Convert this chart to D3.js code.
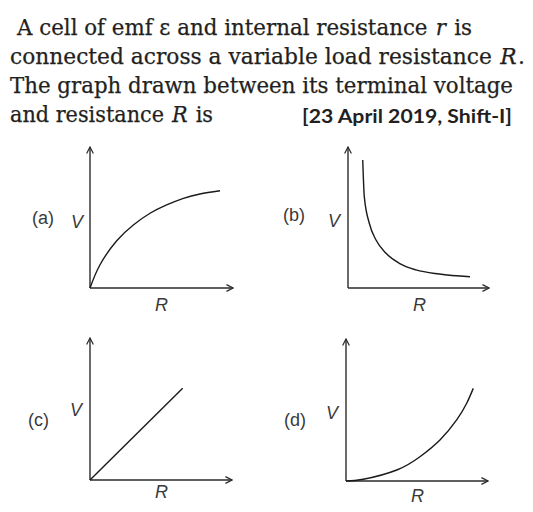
<!DOCTYPE html>
<html>
<head>
<meta charset="utf-8">
<script src="https://cdn.jsdelivr.net/npm/d3@7"></script>
<style>
  html, body { margin: 0; padding: 0; background: #fff; }
  svg { display: block; }
</style>
</head>
<body>
<svg id="chart" width="533" height="512"></svg>
<script>
// ---------- data ----------
const panelIds = ["a", "b", "c", "d"];
const panelLabels = ["(a)", "(b)", "(c)", "(d)"];
const axisLabelX = "R";
const axisLabelY = "V";
// curve samples (R, V) in arbitrary units (axis domain 0..10)
const curveA_R = [0, 0.70, 1.87, 3.03, 4.20, 5.36, 6.53, 7.69, 9.09];
const curveA_V = [0, 1.65, 3.35, 4.47, 5.30, 5.89, 6.36, 6.67, 6.90];
const curveB_R = [1.03, 1.14, 1.49, 1.96, 2.66, 3.59, 4.76, 6.38, 8.53];
const curveB_V = [9.08, 6.48, 4.59, 3.40, 2.46, 1.75, 1.28, 0.99, 0.80];
const curveC_R = [0, 6.48];
const curveC_V = [0, 6.50];
const curveD_R = [0, 1.21, 3.55, 5.17, 6.57, 7.74, 8.44, 8.90];
const curveD_V = [0, 0.12, 0.78, 1.72, 2.91, 4.33, 5.51, 6.57];

const titleLines = [
  ["A cell of emf ε and internal resistance ", {i: "r"}, " is"],
  ["connected across a variable load resistance ", {i: "R"}, "."],
  ["The graph drawn between its terminal voltage"],
  ["and resistance ", {i: "R"}, " is"]
];
const sourceNote = "[23 April 2019, Shift-I]";

// ---------- layout ----------
const svg = d3.select("#chart");
const ink = "#231f20";

const defs = svg.append("defs");
defs.append("marker")
  .attr("id", "arrow")
  .attr("viewBox", "0 0 10 10")
  .attr("refX", 9.2).attr("refY", 5)
  .attr("markerWidth", 8).attr("markerHeight", 8)
  .attr("markerUnits", "userSpaceOnUse")
  .attr("orient", "auto")
  .append("path")
  .attr("d", "M1,0.8 L9.2,5 L1,9.2")
  .attr("fill", "none")
  .attr("stroke", "#2a2a2a")
  .attr("stroke-width", 1.5);

// title: each run is its own text element; spaces between runs become gaps
const titleX = [17, 10, 10, 10];
const titleY = [35, 64, 93, 122];
const titleW = [455, 515, 503, 203];
const serifFont = "'DejaVu Serif', serif";
const probe = svg.append("text").attr("font-family", serifFont).attr("font-size", 22)
  .attr("xml:space", "preserve").style("white-space", "pre").text("a a");
const probe2 = svg.append("text").attr("font-family", serifFont).attr("font-size", 22).text("aa");
const spaceW = probe.node().getComputedTextLength() - probe2.node().getComputedTextLength();
probe.remove(); probe2.remove();

titleLines.forEach((parts, k) => {
  const runs = parts.map(p => {
    const italic = typeof p !== "string";
    const raw = italic ? p.i : p;
    const lead = raw.length - raw.replace(/^ +/, "").length;
    const trail = raw.length - raw.replace(/ +$/, "").length;
    const txt = raw.trim();
    const t = svg.append("text")
      .attr("y", titleY[k])
      .attr("font-family", serifFont)
      .attr("font-size", 22)
      .attr("font-style", italic ? "italic" : "normal")
      .attr("fill", ink)
      .attr("stroke", ink).attr("stroke-width", 0.25)
      .text(txt);
    return {t, w: t.node().getComputedTextLength(),
            lead: lead * spaceW + (italic ? 1.5 : 0),
            trail: trail * spaceW + (italic ? 1.5 : 0)};
  });
  const total = d3.sum(runs, r => r.w + r.lead + r.trail);
  const f = titleW[k] / total;
  let cx = titleX[k];
  runs.forEach(r => {
    cx += r.lead * f;
    const w = r.w * f;
    r.t.attr("x", cx).attr("textLength", w).attr("lengthAdjust", "spacingAndGlyphs");
    cx += w + r.trail * f;
  });
});
svg.append("text")
  .attr("x", 302).attr("y", 123)
  .attr("font-family", "Lato, 'Open Sans', sans-serif")
  .attr("font-weight", "bold")
  .attr("font-size", 18)
  .attr("fill", ink)
  .attr("textLength", 210)
  .attr("lengthAdjust", "spacingAndGlyphs")
  .text(sourceNote);

// panels
const panels = [
  {ox: 90,  oy: 288, top: 147, right: 233, R: curveA_R, V: curveA_V,
   lab: [32, 224], vlab: [71, 228], rlab: [155, 311], curve: d3.curveNatural},
  {ox: 348, oy: 288, top: 147, right: 489, R: curveB_R, V: curveB_V,
   lab: [283, 221], vlab: [328, 227], rlab: [413, 311], curve: d3.curveMonotoneX},
  {ox: 90,  oy: 480, top: 338, right: 232, R: curveC_R, V: curveC_V,
   lab: [28, 426], vlab: [70, 416], rlab: [155, 498], curve: d3.curveLinear},
  {ox: 346, oy: 481, top: 339, right: 488, R: curveD_R, V: curveD_V,
   lab: [284, 426], vlab: [326, 419], rlab: [411, 502], curve: d3.curveNatural}
];

panels.forEach((p, i) => {
  const g = svg.append("g").attr("class", "panel-" + panelIds[i]);
  const x = d3.scaleLinear().domain([0, 10]).range([p.ox, p.ox + 143]);
  const y = d3.scaleLinear().domain([0, 10]).range([p.oy, p.oy - 141]);

  // axes
  g.append("line")
    .attr("x1", p.ox).attr("y1", p.oy).attr("x2", p.right).attr("y2", p.oy)
    .attr("stroke", "#2a2a2a").attr("stroke-width", 1.4)
    .attr("marker-end", "url(#arrow)");
  g.append("line")
    .attr("x1", p.ox).attr("y1", p.oy).attr("x2", p.ox).attr("y2", p.top)
    .attr("stroke", "#2a2a2a").attr("stroke-width", 1.4)
    .attr("marker-end", "url(#arrow)");

  // curve
  const pts = p.R.map((r, j) => [r, p.V[j]]);
  g.append("path")
    .datum(pts)
    .attr("d", d3.line().x(d => x(d[0])).y(d => y(d[1])).curve(p.curve))
    .attr("fill", "none")
    .attr("stroke", "#1a1a1a")
    .attr("stroke-width", 1.4);

  // labels
  const sans = "'Liberation Sans', Arial, Helvetica, sans-serif";
  g.append("text").attr("x", p.lab[0]).attr("y", p.lab[1])
    .attr("font-family", sans).attr("font-size", 18).attr("fill", "#3a3a3a")
    .text(panelLabels[i]);
  g.append("text").attr("x", p.vlab[0]).attr("y", p.vlab[1])
    .attr("font-family", sans).attr("font-size", 18).attr("font-style", "italic")
    .attr("fill", "#3a3a3a").text(axisLabelY);
  g.append("text").attr("x", p.rlab[0]).attr("y", p.rlab[1])
    .attr("font-family", sans).attr("font-size", 18).attr("font-style", "italic")
    .attr("fill", "#3a3a3a").text(axisLabelX);
});
</script>
</body>
</html>
